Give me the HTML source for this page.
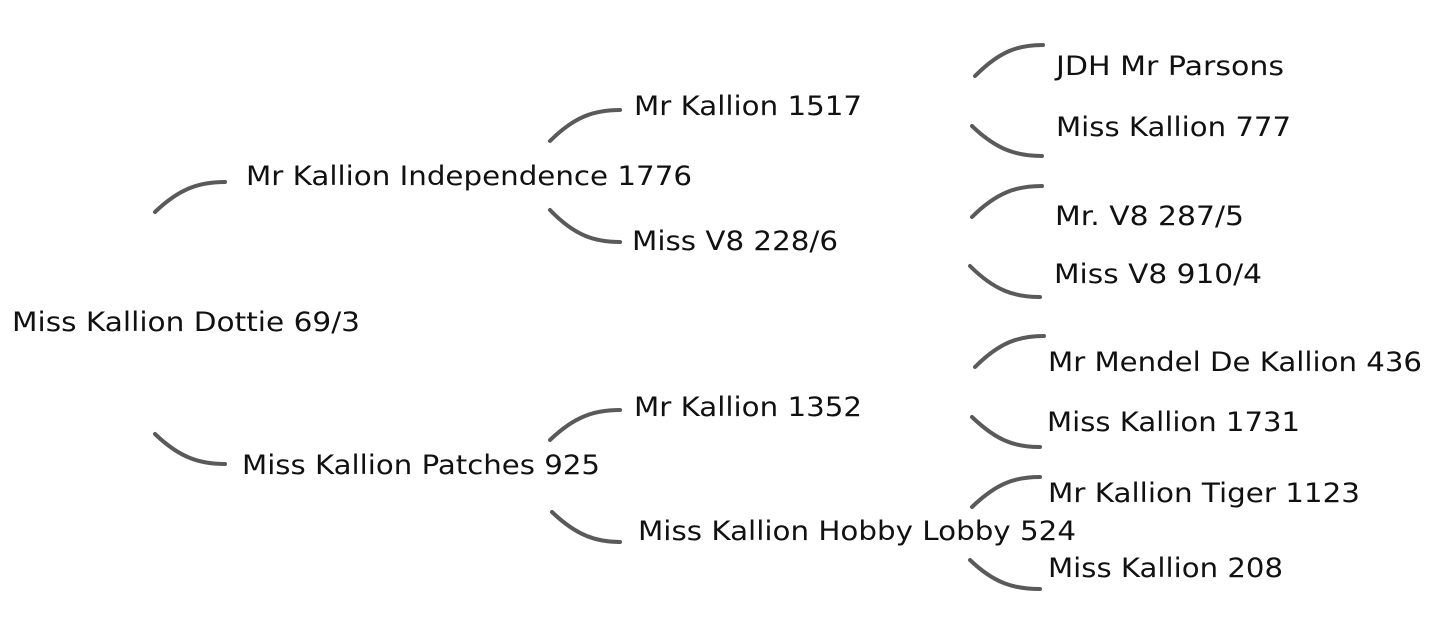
<!DOCTYPE html>
<html><head><meta charset="utf-8"><style>
html,body{margin:0;padding:0;background:#fff;}
svg{display:block}
text{font-family:"DejaVu Sans","Liberation Sans",sans-serif;font-size:27px;fill:#111;}
path{fill:none;stroke:#5a5a5a;stroke-width:4;stroke-linecap:round;}
</style></head><body>
<svg width="1434" height="642" viewBox="0 0 1434 642" xmlns="http://www.w3.org/2000/svg">
<path d="M155,212 C180,188 200,182 225,182"/>
<path d="M155,434 C180,458 200,464 225,464"/>
<path d="M550,141 C575,116 595,110 620,110"/>
<path d="M550,210 C575,236 595,242 620,242"/>
<path d="M550,440 C575,416 595,410 620,410"/>
<path d="M552,512 C577,536 597,542 620,542"/>
<path d="M975,76 C1000,51 1018,45 1043,45"/>
<path d="M972,126 C997,150 1017,156 1042,156"/>
<path d="M972,217 C997,192 1017,186 1042,186"/>
<path d="M970,266 C995,291 1015,297 1040,297"/>
<path d="M975,367 C1000,342 1019,336 1044,336"/>
<path d="M972,417 C997,441 1015,447 1040,447"/>
<path d="M972,507 C997,483 1015,477 1040,477"/>
<path d="M970,560 C995,584 1015,589 1040,589"/>
<text x="12" y="331" textLength="348" lengthAdjust="spacingAndGlyphs">Miss Kallion Dottie 69/3</text>
<text x="246" y="185" textLength="446" lengthAdjust="spacingAndGlyphs">Mr Kallion Independence 1776</text>
<text x="242" y="474" textLength="358" lengthAdjust="spacingAndGlyphs">Miss Kallion Patches 925</text>
<text x="634" y="115" textLength="228" lengthAdjust="spacingAndGlyphs">Mr Kallion 1517</text>
<text x="632" y="250" textLength="206" lengthAdjust="spacingAndGlyphs">Miss V8 228/6</text>
<text x="634" y="416" textLength="228" lengthAdjust="spacingAndGlyphs">Mr Kallion 1352</text>
<text x="638" y="540" textLength="438" lengthAdjust="spacingAndGlyphs">Miss Kallion Hobby Lobby 524</text>
<text x="1056" y="75" textLength="228" lengthAdjust="spacingAndGlyphs">JDH Mr Parsons</text>
<text x="1056" y="136" textLength="235" lengthAdjust="spacingAndGlyphs">Miss Kallion 777</text>
<text x="1055" y="225" textLength="189" lengthAdjust="spacingAndGlyphs">Mr. V8 287/5</text>
<text x="1054" y="283" textLength="208" lengthAdjust="spacingAndGlyphs">Miss V8 910/4</text>
<text x="1048" y="371" textLength="374" lengthAdjust="spacingAndGlyphs">Mr Mendel De Kallion 436</text>
<text x="1047" y="431" textLength="253" lengthAdjust="spacingAndGlyphs">Miss Kallion 1731</text>
<text x="1048" y="502" textLength="312" lengthAdjust="spacingAndGlyphs">Mr Kallion Tiger 1123</text>
<text x="1048" y="577" textLength="235" lengthAdjust="spacingAndGlyphs">Miss Kallion 208</text>
</svg>
</body></html>
